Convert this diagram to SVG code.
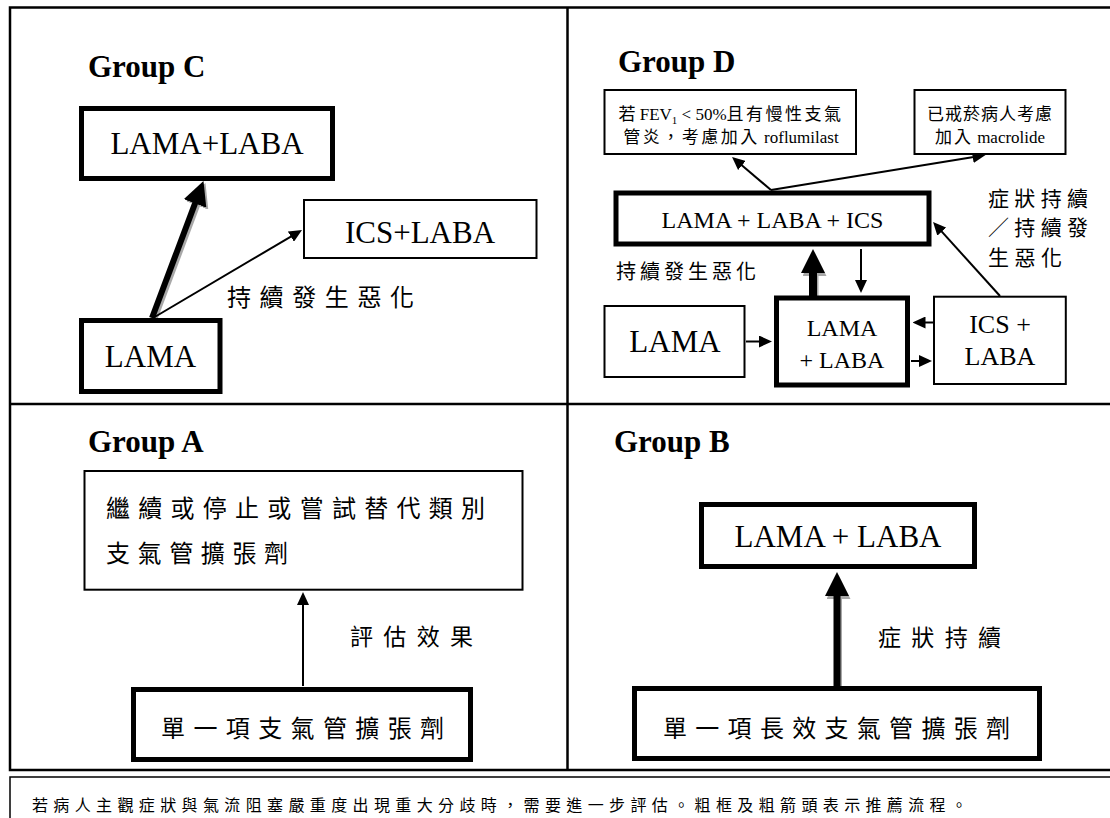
<svg xmlns="http://www.w3.org/2000/svg" width="1110" height="818" viewBox="0 0 1110 818">
<defs>
<style>
.frame{fill:none;stroke:#000;stroke-width:2.5}
.foot{fill:none;stroke:#000;stroke-width:1.5}
.thick{fill:#fff;stroke:#000;stroke-width:5}
.thin{fill:#fff;stroke:#000;stroke-width:2}
.lat{font-family:"Liberation Serif","Times New Roman",serif;fill:#000}
.grp{font-family:"Liberation Serif","Times New Roman",serif;font-weight:bold;font-size:31px;fill:#000}
.cjk{font-family:"Noto Sans CJK TC","Noto Sans CJK SC",sans-serif;fill:#000}
.c1{stroke:#000;stroke-width:2;fill:none}
.c3{stroke:#000;fill:none}
.sh{stroke:#a8a8a8;fill:none}
</style>
<marker id="ah" viewBox="0 0 13 12" markerWidth="13" markerHeight="12" refX="1" refY="6" orient="auto" markerUnits="userSpaceOnUse"><path d="M0,0 L13,6 L0,12 z" fill="#000"/></marker>
<marker id="ahT" viewBox="0 0 24 24" markerWidth="24" markerHeight="24" refX="1" refY="12" orient="auto" markerUnits="userSpaceOnUse"><path d="M0,0 L24,12 L0,24 z" fill="#000"/></marker>
<marker id="ahS" viewBox="0 0 24 24" markerWidth="24" markerHeight="24" refX="1" refY="12" orient="auto" markerUnits="userSpaceOnUse"><path d="M0,0 L24,12 L0,24 z" fill="#a8a8a8"/></marker>
</defs>
<rect x="0" y="0" width="1110" height="818" fill="#fff"/>

<g id="frame">
<path class="frame" d="M1110,7.5 H10 V770 H1110 M567.5,7.5 V770 M10,404 H1110"/>
<path class="foot" d="M1110,777 H10 V818"/>
</g>

<g id="labels-groups">
<text class="grp" x="88" y="77">Group C</text>
<text class="grp" x="618" y="72">Group D</text>
<text class="grp" x="88" y="452">Group A</text>
<text class="grp" x="614" y="452">Group B</text>
</g>

<g id="connectors">
<line class="sh" stroke-width="6" x1="154" y1="320" x2="197.4" y2="204.5" marker-end="url(#ahS)"/>
<line class="c3" stroke-width="6" x1="152" y1="318" x2="195.4" y2="202.5" marker-end="url(#ahT)"/>
<line class="c1" x1="153" y1="318" x2="291.7" y2="236.1" marker-end="url(#ah)"/>
<line class="sh" stroke-width="8" x1="814.5" y1="298" x2="814.5" y2="275" marker-end="url(#ahS)"/>
<line class="c3" stroke-width="8" x1="813" y1="296" x2="813" y2="272" marker-end="url(#ahT)"/>
<line class="c1" x1="861" y1="249" x2="861" y2="281" marker-end="url(#ah)"/>
<line class="c1" x1="746" y1="341.5" x2="760" y2="341.5" marker-end="url(#ah)"/>
<line class="c1" x1="933" y1="322.5" x2="924.5" y2="322.5" marker-end="url(#ah)"/>
<line class="c1" x1="911" y1="361" x2="920" y2="361" marker-end="url(#ah)"/>
<line class="c1" x1="1000" y1="296" x2="941.1" y2="230.9" marker-end="url(#ah)"/>
<line class="c1" x1="771" y1="190" x2="741.2" y2="164.8" marker-end="url(#ah)"/>
<line class="c1" x1="771" y1="190" x2="973.7" y2="156.9" marker-end="url(#ah)"/>
<line class="c1" x1="303" y1="686" x2="303" y2="604" marker-end="url(#ah)"/>
<line class="sh" stroke-width="7" x1="838.5" y1="688" x2="838.5" y2="598" marker-end="url(#ahS)"/>
<line class="c3" stroke-width="7" x1="837" y1="686" x2="837" y2="595" marker-end="url(#ahT)"/>
</g>

<g id="nodeC_lama_laba">
<rect class="thick" x="81.5" y="108.5" width="251" height="70"/>
<text class="lat" font-family="Liberation Serif, Times New Roman, serif" x="207" y="154" font-size="31" text-anchor="middle"><tspan class="lat">LAMA+LABA</tspan></text>
</g>
<g id="nodeC_ics_laba">
<rect class="thin" x="304" y="200" width="232.5" height="58"/>
<text class="lat" font-family="Liberation Serif, Times New Roman, serif" x="420" y="243" font-size="31" text-anchor="middle"><tspan class="lat">ICS+LABA</tspan></text>
</g>
<g id="nodeC_lama">
<rect class="thick" x="81.5" y="320.5" width="138.5" height="71"/>
<text class="lat" font-family="Liberation Serif, Times New Roman, serif" x="150.5" y="367" font-size="31" text-anchor="middle"><tspan class="lat">LAMA</tspan></text>
</g>
<g id="labelC">
<text class="cjk" x="227" y="306" font-size="24" textLength="187" lengthAdjust="spacing">持續發生惡化</text>
</g>

<g id="nodeD_fev">
<rect class="thin" x="604.5" y="90" width="251.5" height="64"/>
<text class="lat" x="731" y="120" font-size="17" text-anchor="middle"><tspan class="cjk">若</tspan> FEV<tspan font-size="11" dy="4">1</tspan><tspan dy="-4"> &lt; 50%</tspan><tspan class="cjk" letter-spacing="2.5">且有慢性支氣</tspan></text>
<text class="lat" x="731" y="143" font-size="17" text-anchor="middle"><tspan class="cjk" letter-spacing="2.5">管炎，考慮加入</tspan> roflumilast</text>
</g>
<g id="nodeD_macrolide">
<rect class="thin" x="914.5" y="90" width="151" height="64"/>
<text class="cjk" x="990" y="120" font-size="17" text-anchor="middle" letter-spacing="1">已戒菸病人考慮</text>
<text class="lat" x="990" y="143" font-size="17" text-anchor="middle"><tspan class="cjk" letter-spacing="2">加入</tspan> macrolide</text>
</g>
<g id="nodeD_triple">
<rect class="thick" x="616" y="193" width="313" height="51"/>
<text class="lat" font-family="Liberation Serif, Times New Roman, serif" x="772.5" y="227.5" font-size="24" text-anchor="middle"><tspan class="lat">LAMA + LABA + ICS</tspan></text>
</g>
<g id="nodeD_lama">
<rect class="thin" x="604.5" y="306" width="140" height="71"/>
<text class="lat" font-family="Liberation Serif, Times New Roman, serif" x="675" y="352" font-size="31" text-anchor="middle"><tspan class="lat">LAMA</tspan></text>
</g>
<g id="nodeD_lama_laba">
<rect class="thick" x="776.5" y="298" width="131" height="87"/>
<text class="lat" font-family="Liberation Serif, Times New Roman, serif" x="842" y="336" font-size="24" text-anchor="middle"><tspan class="lat">LAMA</tspan></text>
<text class="lat" font-family="Liberation Serif, Times New Roman, serif" x="842" y="368" font-size="24" text-anchor="middle"><tspan class="lat">+ LABA</tspan></text>
</g>
<g id="nodeD_ics_laba">
<rect class="thin" x="934" y="296.7" width="131.8" height="87.3"/>
<text class="lat" font-family="Liberation Serif, Times New Roman, serif" x="1000" y="333" font-size="26" text-anchor="middle"><tspan class="lat">ICS +</tspan></text>
<text class="lat" font-family="Liberation Serif, Times New Roman, serif" x="1000" y="365" font-size="26" text-anchor="middle"><tspan class="lat">LABA</tspan></text>
</g>
<g id="labelsD">
<text class="cjk" x="616" y="279" font-size="20" textLength="140" lengthAdjust="spacing">持續發生惡化</text>
<text class="cjk" x="988" y="206" font-size="21" textLength="100" lengthAdjust="spacing">症狀持續</text>
<text class="cjk" x="988" y="235" font-size="21" textLength="100" lengthAdjust="spacing">／持續發</text>
<text class="cjk" x="988" y="265" font-size="21" textLength="74" lengthAdjust="spacing">生惡化</text>
</g>

<g id="nodeA_continue">
<rect class="thin" x="84.5" y="471" width="438" height="118.7"/>
<text class="cjk" x="106" y="517" font-size="24" textLength="379" lengthAdjust="spacing">繼續或停止或嘗試替代類別</text>
<text class="cjk" x="106" y="562" font-size="24" textLength="182" lengthAdjust="spacing">支氣管擴張劑</text>
</g>
<g id="nodeA_single">
<rect class="thick" x="133.5" y="689.5" width="337" height="70"/>
<text class="cjk" x="161" y="737" font-size="24" textLength="283" lengthAdjust="spacing">單一項支氣管擴張劑</text>
</g>
<g id="labelA">
<text class="cjk" x="350" y="645" font-size="23" textLength="123" lengthAdjust="spacing">評估效果</text>
</g>

<g id="nodeB_lama_laba">
<rect class="thick" x="701.5" y="504.5" width="273" height="62"/>
<text class="lat" font-family="Liberation Serif, Times New Roman, serif" x="838" y="547" font-size="31" text-anchor="middle"><tspan class="lat">LAMA + LABA</tspan></text>
</g>
<g id="nodeB_single">
<rect class="thick" x="634.5" y="688.5" width="405" height="70"/>
<text class="cjk" x="663" y="737" font-size="24" textLength="347" lengthAdjust="spacing">單一項長效支氣管擴張劑</text>
</g>
<g id="labelB">
<text class="cjk" x="878" y="646" font-size="23" textLength="123" lengthAdjust="spacing">症狀持續</text>
</g>

<g id="footer">
<text class="cjk" x="32" y="811" font-size="16" textLength="935" lengthAdjust="spacing">若病人主觀症狀與氣流阻塞嚴重度出現重大分歧時，需要進一步評估。粗框及粗箭頭表示推薦流程。</text>
</g>
</svg>
